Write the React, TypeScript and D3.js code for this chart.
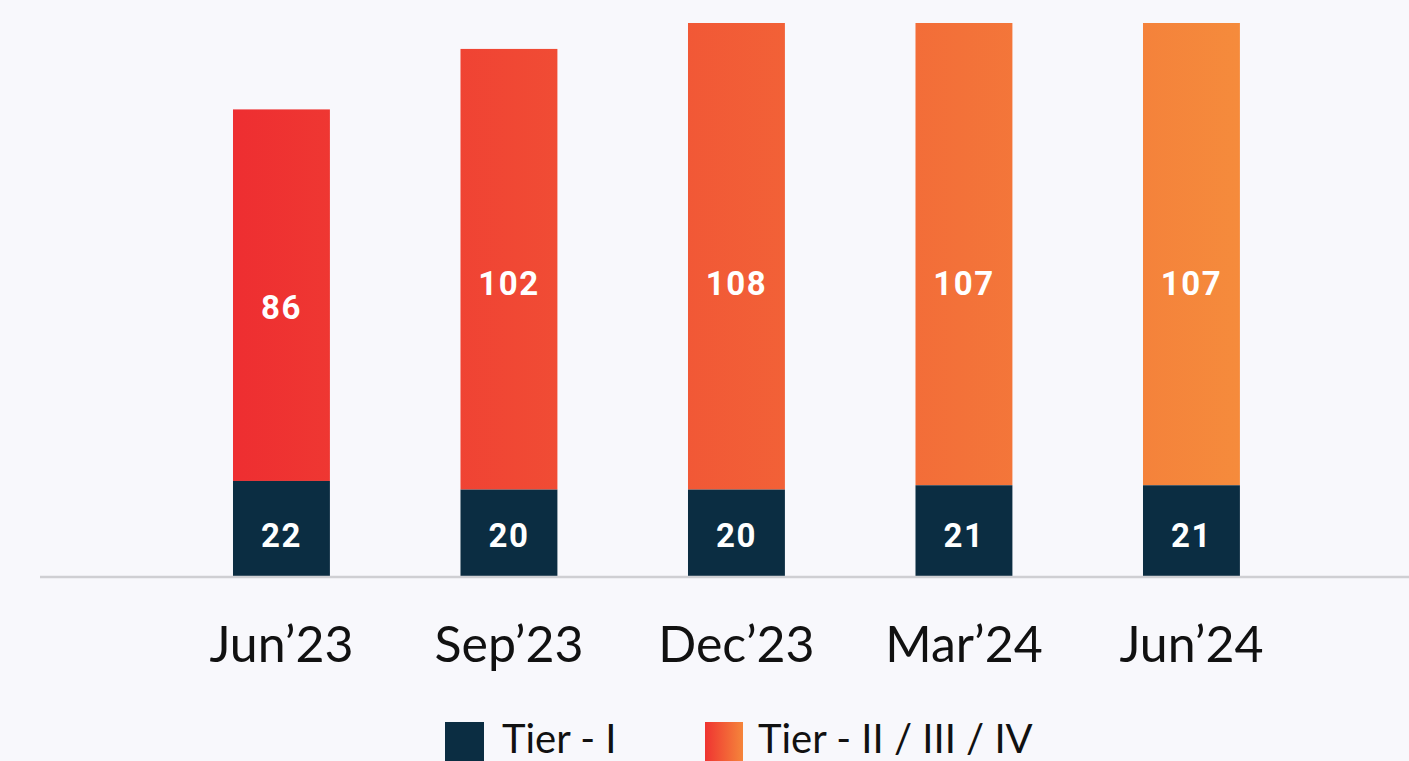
import React from "react";
import * as d3 from "d3";

const categories = ["Jun’23", "Sep’23", "Dec’23", "Mar’24", "Jun’24"];
const tier1 = [22, 20, 20, 21, 21];
const tier2 = [86, 102, 108, 107, 107];
const legendLabels = ["Tier - I", "Tier - II / III / IV"];

const W = 1409;
const H = 761;
const baseY = 576;

export default function App() {
  const x = d3
    .scaleBand<string>()
    .domain(categories)
    .range([167.7, 1305.2])
    .paddingInner(0.574)
    .paddingOuter(0.287);
  const y = d3.scaleLinear().domain([0, 128]).range([baseY, 23]);
  const bw = x.bandwidth();
  const navy = "#0b2d42";

  return (
    <div style={{ position: "fixed", left: 0, top: 0, width: W, height: H, background: "#f8f8fc" }}>
      <svg width={W} height={H} style={{ display: "block" }}>
        <defs>
          <linearGradient id="t2grad" gradientUnits="userSpaceOnUse" x1={x(categories[0])} x2={(x(categories[4]) as number) + bw} y1={0} y2={0}>
            <stop offset="0%" stopColor="#ee2e31" />
            <stop offset="100%" stopColor="#f58b3c" />
          </linearGradient>
          <linearGradient id="legGrad" x1="0" x2="1" y1="0" y2="0">
            <stop offset="0%" stopColor="#ef3431" />
            <stop offset="100%" stopColor="#f5853b" />
          </linearGradient>
        </defs>
        <rect x={0} y={0} width={W} height={H} fill="#f8f8fc" />
        {categories.map((c, i) => {
          const x0 = x(c) as number;
          const t1 = tier1[i];
          const t2 = tier2[i];
          const yT1 = y(t1);
          const yTop = y(t1 + t2);
          const cx = x0 + bw / 2;
          const t2LabelY = Math.max(y(t1 + t2 / 2) + 12, y(67.7));
          return (
            <g key={c}>
              <rect x={x0} y={yTop} width={bw} height={yT1 - yTop} fill="url(#t2grad)" />
              <rect x={x0} y={yT1} width={bw} height={baseY - yT1} fill={navy} />
              <text
                x={cx}
                y={t2LabelY}
                dy="0.35em"
                textAnchor="middle"
                fill="#fff"
                fontFamily="Roboto, 'Open Sans', sans-serif"
                fontWeight={700}
                fontSize={33}
                letterSpacing={1.5}
              >
                {t2}
              </text>
              <text
                x={cx}
                y={y(9.4)}
                dy="0.35em"
                textAnchor="middle"
                fill="#fff"
                fontFamily="Roboto, 'Open Sans', sans-serif"
                fontWeight={700}
                fontSize={33}
                letterSpacing={1.5}
              >
                {t1}
              </text>
              <text
                x={cx}
                y={662}
                textAnchor="middle"
                fill="#111"
                fontFamily="Lato, sans-serif"
                fontWeight={400}
                fontSize={50}
              >
                {c}
              </text>
            </g>
          );
        })}
        <line x1={40} x2={W} y1={577} y2={577} stroke="#cfcfd3" strokeWidth={2.5} />
        <g>
          <rect x={445} y={722} width={39} height={39} fill={navy} />
          <text x={502} y={753} fill="#111" fontFamily="Lato, sans-serif" fontWeight={400} fontSize={40}>
            {legendLabels[0]}
          </text>
          <rect x={705} y={722} width={38} height={39} fill="url(#legGrad)" />
          <text x={758} y={753} fill="#111" fontFamily="Lato, sans-serif" fontWeight={400} fontSize={40}>
            {legendLabels[1]}
          </text>
        </g>
      </svg>
    </div>
  );
}
